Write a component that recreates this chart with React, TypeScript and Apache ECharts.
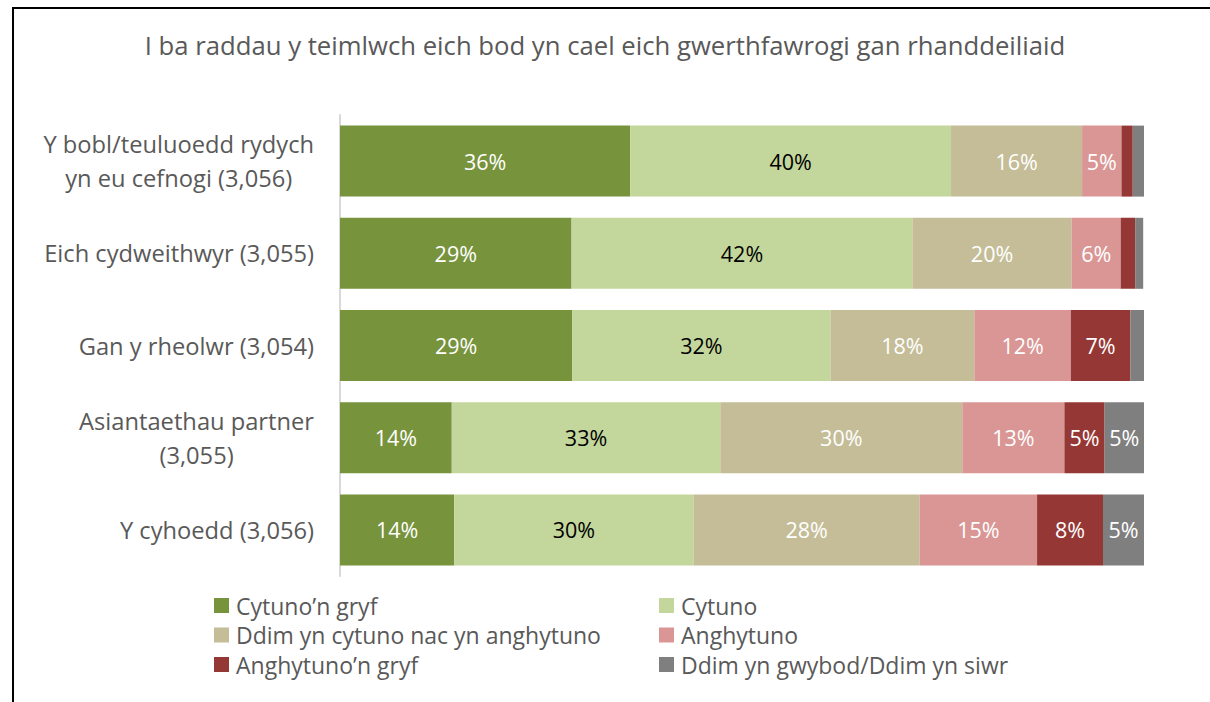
import React, { useEffect, useRef } from "react";
import * as echarts from "echarts";

const titleText = "I ba raddau y teimlwch eich bod yn cael eich gwerthfawrogi gan rhanddeiliaid";
const categories = [
  "Y bobl/teuluoedd rydych\nyn eu cefnogi (3,056)",
  "Eich cydweithwyr (3,055)",
  "Gan y rheolwr (3,054)",
  "Asiantaethau partner\n(3,055)",
  "Y cyhoedd (3,056)",
];
const seriesNames = [
  "Cytuno’n gryf",
  "Cytuno",
  "Ddim yn cytuno nac yn anghytuno",
  "Anghytuno",
  "Anghytuno’n gryf",
  "Ddim yn gwybod/Ddim yn siwr",
];
const cytunoGryf = [36.1, 28.8, 28.9, 13.9, 14.2];
const cytuno = [39.9, 42.4, 32.1, 33.4, 29.8];
const niwtral = [16.3, 19.8, 17.9, 30.1, 28.1];
const anghytuno = [4.9, 6.1, 12.0, 12.7, 14.6];
const anghytunoGryf = [1.4, 1.8, 7.4, 5.0, 8.2];
const ddimGwybod = [1.4, 1.0, 1.7, 4.9, 5.1];
const seriesValues = [cytunoGryf, cytuno, niwtral, anghytuno, anghytunoGryf, ddimGwybod];
const colors = ["#77933C", "#C3D69B", "#C4BD97", "#D99694", "#953735", "#7F7F7F"];
const labelColors = ["#FFFFFF", "#000000", "#FFFFFF", "#FFFFFF", "#FFFFFF", "#FFFFFF"];

const FONT = "Open Sans";

export default function App() {
  const ref = useRef<HTMLDivElement>(null);
  useEffect(() => {
    document.body.style.margin = "0";
    const chart = echarts.init(ref.current!, null, { renderer: "svg" });
    const legendBase = {
      orient: "vertical",
      top: 594,
      padding: 0,
      itemWidth: 15,
      itemHeight: 15,
      itemGap: 6.5,
      icon: "rect",
      textStyle: { fontFamily: FONT, fontSize: 23, color: "#595959", lineHeight: 20, padding: [0, 0, 0, 2] },
    };
    chart.setOption({
      animation: false,
      textStyle: { fontFamily: FONT },
      title: {
        text: titleText,
        left: "center",
        top: 27,
        textStyle: { fontFamily: FONT, fontSize: 25.7, fontWeight: "normal", color: "#595959" },
      },
      graphic: [
        {
          type: "rect",
          shape: { x: 13, y: 8, width: 1300, height: 800 },
          style: { fill: "none", stroke: "#000000", lineWidth: 2 },
          silent: true,
        },
      ],
      grid: { left: 340, right: 66, top: 115, bottom: 126, containLabel: false },
      xAxis: { type: "value", min: 0, max: 100, show: false },
      yAxis: {
        type: "category",
        inverse: true,
        data: categories,
        axisTick: { show: false },
        axisLine: { show: true, lineStyle: { color: "#D9D9D9", width: 2 } },
        axisLabel: {
          margin: 26,
          align: "right",
          formatter: (v: string) => v.split("\n").map((l) => `{c|${l}}`).join("\n"),
          rich: {
            c: { align: "center", fontFamily: FONT, fontSize: 23.7, color: "#595959", lineHeight: 34 },
          },
        },
      },
      legend: [
        { ...legendBase, left: 214, data: [seriesNames[0], seriesNames[2], seriesNames[4]] },
        { ...legendBase, left: 659, data: [seriesNames[1], seriesNames[3], seriesNames[5]] },
      ],
      series: seriesNames.map((name, i) => ({
        name,
        type: "bar",
        stack: "total",
        barWidth: "77%",
        data: seriesValues[i],
        itemStyle: { color: colors[i] },
        label: {
          show: true,
          position: "inside",
          color: labelColors[i],
          fontFamily: FONT,
          fontSize: 21.5,
          formatter: (p: any) => (p.value >= 3 ? `${Math.round(p.value)}%` : ""),
        },
      })),
    });
    return () => chart.dispose();
  }, []);
  return <div ref={ref} style={{ width: 1210, height: 702 }} />;
}
